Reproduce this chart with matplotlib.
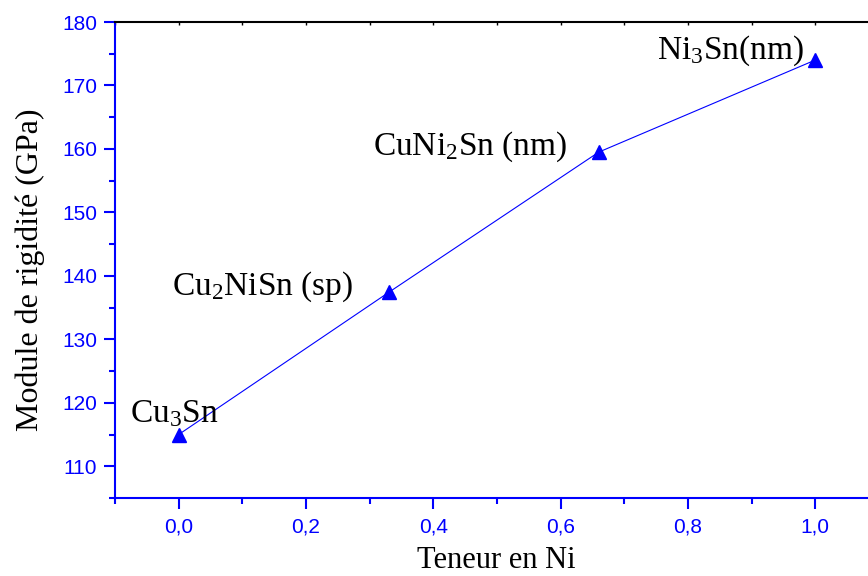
import numpy as np
import matplotlib.pyplot as plt
from matplotlib.ticker import MultipleLocator, FuncFormatter

# Shear modulus vs Ni content for the Cu-Ni-Sn phases
ni_content = [0.0, 0.33, 0.66, 1.0]
modulus = [115.0, 137.4, 159.5, 174.0]
phase_labels = ['Cu$_3$Sn', 'Cu$_2$NiSn (sp)', 'CuNi$_2$Sn (nm)', 'Ni$_3$Sn(nm)']
label_x = [-0.077, -0.011, 0.305, 0.751]
label_y = [116.9, 137.05, 159.1, 174.2]

plt.rcParams['mathtext.fontset'] = 'custom'
plt.rcParams['mathtext.rm'] = 'Liberation Serif'
plt.rcParams['mathtext.it'] = 'Liberation Serif:italic'

fig = plt.figure(figsize=(8.68, 5.76), dpi=100)
ax = fig.add_axes([0.1325, 0.1354, 0.8675, 0.8264])

ax.plot(ni_content, modulus, color='blue', linewidth=0.8,
        marker='^', markersize=10, markerfacecolor='blue', markeredgecolor='blue')

for x, y, txt in zip(label_x, label_y, phase_labels):
    ax.text(x, y, txt, ha='left', va='baseline', fontsize=24,
            family='Liberation Serif', color='black')

ax.set_xlim(-0.1, 1.083)
ax.set_ylim(105, 180)

ax.xaxis.set_major_locator(MultipleLocator(0.2))
ax.xaxis.set_minor_locator(MultipleLocator(0.1))
ax.yaxis.set_major_locator(MultipleLocator(10))
ax.yaxis.set_minor_locator(MultipleLocator(5))
ax.xaxis.set_major_formatter(FuncFormatter(lambda v, p: f'{v:.1f}'.replace('.', ',')))

for side in ['left', 'bottom']:
    ax.spines[side].set_color('blue')
    ax.spines[side].set_linewidth(1.5)
ax.spines['top'].set_color('black')
ax.spines['top'].set_linewidth(1.5)
ax.spines['right'].set_visible(False)

ax.tick_params(which='major', direction='out', length=8, width=1.5,
               color='blue', labelcolor='blue', labelsize=15, pad=5)
ax.tick_params(which='minor', direction='out', length=4, width=1.5, color='blue')
ax.tick_params(axis='both', labelfontfamily='Liberation Sans')
ax.tick_params(axis='x', pad=6)

# small inward ticks along the top edge
sec = ax.secondary_xaxis('top')
sec.xaxis.set_major_locator(MultipleLocator(0.2))
sec.xaxis.set_minor_locator(MultipleLocator(0.1))
sec.tick_params(which='both', direction='in', length=2, width=1, color='black',
                labeltop=False)
sec.spines['top'].set_visible(False)

fig.text(496 / 868, 8 / 576, 'Teneur en Ni', ha='center', va='baseline',
         fontsize=22, family='Liberation Serif')
ax.set_ylabel('Module de rigidité (GPa)', fontsize=23, family='Liberation Serif')
ax.yaxis.set_label_coords(-0.093, 0.479)

fig.savefig('out.png', dpi=100)
